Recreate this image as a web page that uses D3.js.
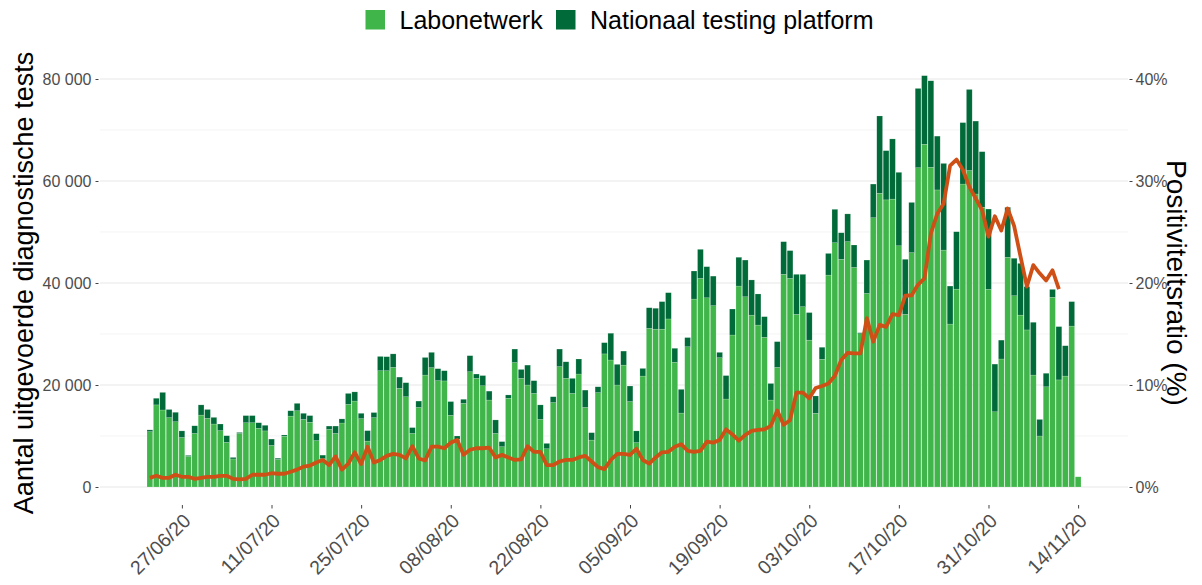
<!DOCTYPE html>
<html>
<head>
<meta charset="utf-8">
<script src="https://cdn.jsdelivr.net/npm/d3@7"></script>
<style>
  body { margin: 0; background: #fff; }
  svg { font-family: 'Liberation Sans', Arial, sans-serif; }
</style>
</head>
<body>
<svg width="1202" height="585"></svg>
<script>
// Dagelijkse testen vanaf 22/06/20
var startDate = new Date(2020, 5, 22);

var labo = [10850,16100,15100,13600,12800,9700,6000,10500,14100,13450,12350,11050,8750,5500,10500,12600,12600,11500,11000,8150,
  5400,9950,13900,14950,13250,12700,9100,5550,11300,10500,12550,16200,16850,13400,9000,13600,22800,22800,23450,19350,17700,
  10500,15600,21950,23400,20850,20800,14050,9350,16400,22600,21300,19850,17050,10500,7900,17400,24400,21300,20000,18350,13250,7500,
  16550,23600,21300,18350,22150,15600,9200,18500,26100,24900,20000,23900,16750,8700,21750,31100,30950,30950,32950,24450,14500,
  27500,36850,40900,37100,35550,25350,17250,29800,39400,37300,33700,31750,29350,17050,23450,41700,40900,33850,35350,28800,14450,
  25050,41550,47900,44650,48100,43050,30050,37950,52800,57600,56300,56450,47300,33850,45950,62600,67200,62700,58250,46450,31950,
  38800,59400,62050,57450,54850,38750,14750,25100,45050,37500,33700,30800,21950,10000,19650,37200,21000,21750,31550,2000];

var ntp = [350,1300,3450,1600,1850,1300,200,1500,2000,1750,1300,1300,1300,300,200,1400,1400,1100,1100,1250,
  250,250,1050,1450,1200,1300,1350,700,650,1450,800,2150,1800,1050,2050,1000,2800,2750,2650,2200,2750,
  1150,1250,3450,3000,2350,2000,2700,650,800,3150,850,2000,1750,2650,1000,650,2650,1750,3900,2500,2850,1050,
  1150,3450,3250,2950,2950,3400,1450,1150,2200,5250,4050,2750,3050,2300,1500,4050,4100,5400,5150,2750,4650,
  1800,5500,5700,6100,5800,1050,4600,5100,5650,7200,6900,6100,4050,3250,5050,6400,5450,7850,6350,5400,3400,
  2350,4250,6550,5200,5450,4400,200,6550,6600,15150,9650,11800,14400,10800,9850,15550,13450,16950,10550,17000,7450,
  11250,12050,15900,14300,10900,15750,9350,3700,9800,7350,10150,8500,10350,3250,2650,1550,10450,5950,4800,0];

// positiviteitsratio in %
var posit = [0.9,1.1,0.9,0.9,1.2,1.0,1.0,0.8,0.9,1.0,1.0,1.1,1.1,0.8,0.75,0.8,1.2,1.2,1.2,1.35,1.3,
  1.3,1.5,1.7,2.0,2.1,2.4,2.65,2.15,3.0,1.7,2.3,3.4,2.25,3.95,2.4,2.65,3.05,3.25,3.15,2.8,4.0,
  2.8,2.6,3.95,3.95,3.8,4.35,4.6,3.15,3.65,3.8,3.8,3.85,2.9,3.15,2.9,2.65,2.7,4.0,3.45,3.45,2.15,
  2.15,2.5,2.65,2.65,2.9,3.05,2.5,1.95,1.75,2.65,3.25,3.25,3.15,3.75,2.65,2.3,2.9,3.4,3.45,3.95,4.2,
  3.55,3.45,3.55,4.45,4.35,4.6,5.65,5.15,4.55,5.1,5.5,5.6,5.65,6.0,7.5,6.1,6.55,9.25,9.25,8.7,9.7,
  9.9,10.15,10.9,12.45,13.15,13.1,13.1,16.55,14.25,15.9,15.7,16.95,16.85,18.75,18.8,19.85,20.45,24.85,26.8,27.8,31.5,
  32.1,31.1,29.45,28.3,27.15,24.55,26.55,25.15,27.3,25.6,22.6,19.65,21.75,20.95,20.25,21.25,19.4];

var xTicks = ['27/06/20','11/07/20','25/07/20','08/08/20','22/08/20','05/09/20','19/09/20','03/10/20','17/10/20','31/10/20','14/11/20'];
var yTicks = [0, 20000, 40000, 60000, 80000];
var yMinor = [10000, 30000, 50000, 70000];
var pctTicks = [0, 10, 20, 30, 40];

var seriesNames = ['Labonetwerk', 'Nationaal testing platform'];
var colors = ['#3fb54a', '#006a38'];
var lineColor = '#cf5016';

var svg = d3.select('svg');
var parseTick = d3.timeParse('%d/%m/%y');

var table = labo.map(function(d, i){
    return { date: d3.timeDay.offset(startDate, i), labo: d, ntp: ntp[i] };
});
var lastDate = table[table.length - 1].date;

var x = d3.scaleTime()
    .domain([d3.timeHour.offset(startDate, -187), d3.timeHour.offset(lastDate, 187)])
    .range([100, 1128]);

var y = d3.scaleLinear()
    .domain([0, 80000])
    .range([487, 79]);

var yR = d3.scaleLinear()
    .domain([0, 40])
    .range([487, 79]);

var dayW = x(d3.timeDay.offset(startDate, 1)) - x(startDate);

// rasterlijnen
svg.selectAll('line.minor')
    .data(yMinor)
    .enter()
    .append('line')
    .attr('x1', 100)
    .attr('x2', 1128)
    .attr('y1', function(d){ return y(d) })
    .attr('y2', function(d){ return y(d) })
    .attr('stroke', '#ededed')
    .attr('stroke-width', 0.6);

svg.selectAll('line.major')
    .data(yTicks)
    .enter()
    .append('line')
    .attr('x1', 100)
    .attr('x2', 1128)
    .attr('y1', function(d){ return y(d) })
    .attr('y2', function(d){ return y(d) })
    .attr('stroke', '#e8e8e8')
    .attr('stroke-width', 1.1);

// gestapelde staven
var stacked = d3.stack().keys(['labo', 'ntp'])(table);

svg.selectAll('g.layer')
    .data(stacked)
    .enter()
    .append('g')
    .attr('fill', function(d, i){
        return colors[i]
    })
    .selectAll('rect')
    .data(function(d){ return d })
    .enter()
    .append('rect')
    .attr('x', function(d){
        return x(d.data.date) - dayW * 0.45
    })
    .attr('width', dayW * 0.9)
    .attr('y', function(d){
        return y(d[1])
    })
    .attr('height', function(d){
        return Math.max(0, y(d[0]) - y(d[1]))
    })
    .attr('stroke', 'rgba(255,255,255,0.35)')
    .attr('stroke-width', 0.5);

// positiviteitsratio
var line = d3.line()
    .x(function(d, i){ return x(d3.timeDay.offset(startDate, i)) })
    .y(function(d){ return yR(d) });

svg.append('path')
    .datum(posit)
    .attr('d', line)
    .attr('fill', 'none')
    .attr('stroke', lineColor)
    .attr('stroke-width', 3.8)
    .attr('stroke-linejoin', 'round');

// assen
var fmt = function(d){
    return d3.format(',')(d).replace(/,/g, ' ')
};

var leftAxis = svg.append('g')
    .attr('transform', 'translate(98.5,0)')
    .call(d3.axisLeft(y).tickValues(yTicks).tickFormat(fmt).tickSize(3).tickPadding(4));

var rightAxis = svg.append('g')
    .attr('transform', 'translate(1129.5,0)')
    .call(d3.axisRight(yR).tickValues(pctTicks).tickFormat(function(d){ return d + '%' }).tickSize(3).tickPadding(3));

var bottomAxis = svg.append('g')
    .attr('transform', 'translate(0,505)')
    .call(d3.axisBottom(x).tickValues(xTicks.map(parseTick)).tickFormat('').tickSize(3.5));

[leftAxis, rightAxis, bottomAxis].forEach(function(g){
    g.select('.domain').remove();
    g.selectAll('.tick line').attr('stroke', '#444');
    g.selectAll('.tick text')
        .attr('fill', '#4d4d4d')
        .attr('font-size', 16)
        .attr('font-family', "'Liberation Sans', Arial, sans-serif");
});

svg.selectAll('text.xlab')
    .data(xTicks)
    .enter()
    .append('text')
    .attr('class', 'xlab')
    .attr('transform', function(d){
        return 'translate(' + (x(parseTick(d)) + 10) + ',522) rotate(-45)'
    })
    .attr('text-anchor', 'end')
    .attr('font-size', 19.5)
    .attr('fill', '#4d4d4d')
    .text(function(d){ return d });

// astitels
svg.append('text')
    .attr('transform', 'translate(33,283) rotate(-90)')
    .attr('text-anchor', 'middle')
    .attr('font-size', 27)
    .attr('fill', '#000')
    .text('Aantal uitgevoerde diagnostische tests');

svg.append('text')
    .attr('transform', 'translate(1167,283) rotate(90)')
    .attr('text-anchor', 'middle')
    .attr('font-size', 28)
    .attr('fill', '#000')
    .text('Positiviteitsratio (%)');

// legende
var legend = svg.append('g');
var legendX = [365.5, 556];

legend.selectAll('rect')
    .data(seriesNames)
    .enter()
    .append('rect')
    .attr('x', function(d, i){ return legendX[i] })
    .attr('y', 10)
    .attr('width', 19.5)
    .attr('height', 19.5)
    .attr('fill', function(d, i){ return colors[i] });

legend.selectAll('text')
    .data(seriesNames)
    .enter()
    .append('text')
    .attr('x', function(d, i){ return legendX[i] + 34 })
    .attr('y', 29)
    .attr('font-size', 25)
    .attr('fill', '#000')
    .text(function(d){ return d });
</script>
</body>
</html>
